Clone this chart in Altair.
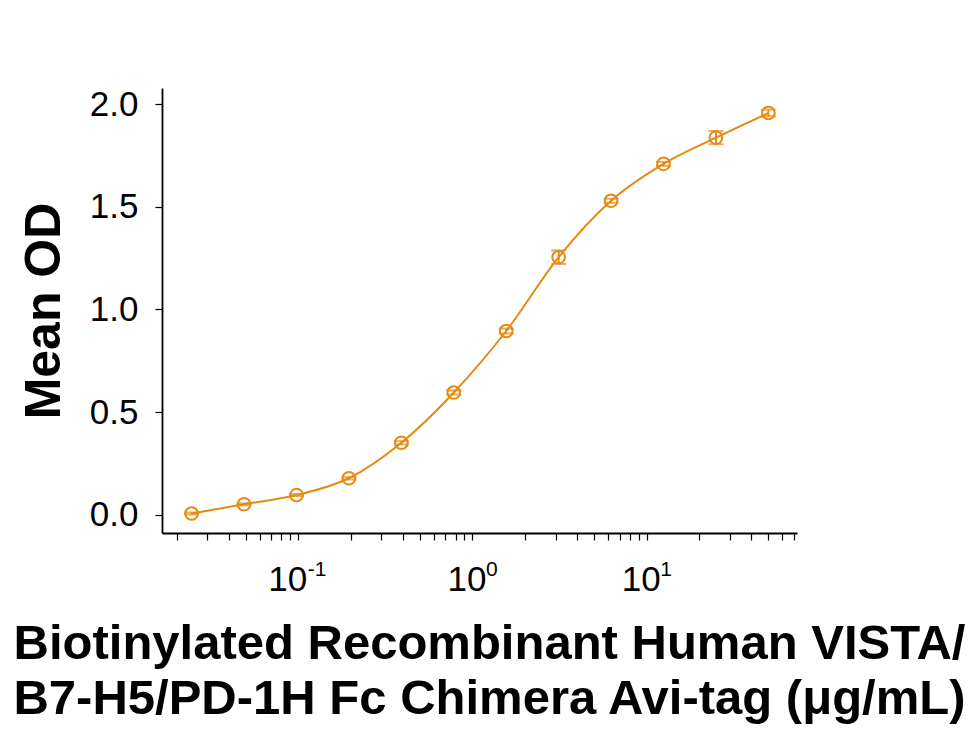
import altair as alt
import pandas as pd

# Data
conc = [0.0244, 0.0488, 0.0977, 0.1953, 0.3906, 0.7813, 1.5625, 3.125, 6.25, 12.5, 25, 50]
mean_od = [0.005, 0.050, 0.095, 0.177, 0.350, 0.595, 0.895, 1.255, 1.530, 1.710, 1.838, 1.958]
sem = [0.005, 0.005, 0.005, 0.006, 0.008, 0.010, 0.012, 0.033, 0.010, 0.010, 0.032, 0.016]

x_tick_values = [0.02, 0.03, 0.04, 0.05, 0.06, 0.07, 0.08, 0.09,
                 0.1, 0.2, 0.3, 0.4, 0.5, 0.6, 0.7, 0.8, 0.9,
                 1, 2, 3, 4, 5, 6, 7, 8, 9,
                 10, 20, 30, 40, 50, 60, 70]
x_label_values = [0.1, 1, 10]
x_label_exponents = ["-1", "0", "1"]
y_tick_values = [0.0, 0.5, 1.0, 1.5, 2.0]

df = pd.DataFrame({"conc": conc, "od": mean_od, "sem": sem})
df["lo"] = df["od"] - df["sem"]
df["hi"] = df["od"] + df["sem"]

COLOR = "#E68A12"
FONT = "Liberation Sans"

x_scale = alt.Scale(type="log", domain=[0.0165, 73], nice=False)
y_scale = alt.Scale(domain=[-0.09, 2.08], nice=False, zero=False)

main_label_expr = " : ".join(
    f"datum.value == {v} ? '10'" for v in x_label_values
) + " : ''"
exp_label_expr = " : ".join(
    f"datum.value == {v} ? '{e}'" for v, e in zip(x_label_values, x_label_exponents)
) + " : ''"

x_main_axis = alt.Axis(
    orient="bottom",
    values=x_tick_values,
    labelExpr=main_label_expr,
    labelOverlap=False,
    labelFlush=False,
    labelFontSize=35,
    labelPadding=22,
    labelOffset=alt.condition("datum.value == 0.1", alt.value(-11), alt.value(-6)),
    tickSize=7,
    tickWidth=1.2,
    tickColor="black",
    domainColor="black",
    domainWidth=1.8,
    grid=False,
    title=["Biotinylated Recombinant Human VISTA/", "B7-H5/PD-1H Fc Chimera Avi-tag (μg/mL)"],
    titleFontSize=49,
    titleFontWeight="bold",
    titleLineHeight=55,
    titlePadding=22,
    titleX=327,
    labelColor="black",
    titleColor="black",
)

x_exp_axis = alt.Axis(
    orient="bottom",
    values=x_label_values,
    labelExpr=exp_label_expr,
    labelOverlap=False,
    labelFlush=False,
    labelFontSize=21,
    labelAlign="left",
    labelBaseline="top",
    labelPadding=25,
    labelOffset=alt.condition("datum.value == 0.1", alt.value(9), alt.value(13)),
    ticks=False,
    tickSize=0,
    domain=False,
    grid=False,
    title=None,
    labelColor="black",
)

y_axis = alt.Axis(
    values=y_tick_values,
    format=".1f",
    labelFontSize=35,
    labelPadding=17,
    tickSize=7,
    tickWidth=1.2,
    tickColor="black",
    domainColor="black",
    domainWidth=1.8,
    grid=False,
    title="Mean OD",
    titleFontSize=50,
    titleFontWeight="bold",
    titlePadding=20,
    labelColor="black",
    titleColor="black",
)

base = alt.Chart(df)

line = base.mark_line(color=COLOR, strokeWidth=2, interpolate="monotone").encode(
    x=alt.X("conc:Q", scale=x_scale, axis=x_main_axis),
    y=alt.Y("od:Q", scale=y_scale, axis=y_axis),
)

exp_layer = base.mark_point(opacity=0).encode(
    x=alt.X("conc:Q", scale=x_scale, axis=x_exp_axis),
    y=alt.Y("od:Q", scale=y_scale, axis=y_axis),
)

points = base.mark_point(
    shape="circle", filled=False, color=COLOR, size=160, strokeWidth=2, opacity=1
).encode(
    x=alt.X("conc:Q", scale=x_scale, axis=None),
    y=alt.Y("od:Q", scale=y_scale, axis=y_axis),
)

errbars = base.mark_errorbar(
    color=COLOR, ticks=alt.TickConfig(size=15, thickness=2), thickness=2
).encode(
    x=alt.X("conc:Q", scale=x_scale, axis=None),
    y=alt.Y("lo:Q", scale=y_scale, axis=y_axis),
    y2="hi:Q",
)

chart = (
    alt.layer(line, exp_layer, errbars, points)
    .resolve_axis(x="independent")
    .properties(
        width=635,
        height=445,
        autosize=alt.AutoSizeParams(type="none"),
        padding={"left": 154, "top": 80, "right": 172, "bottom": 200},
    )
    .configure(font=FONT)
    .configure_view(stroke="transparent", strokeWidth=0)
)

chart.save("out.html", embed_options={"renderer": "svg", "actions": False})
